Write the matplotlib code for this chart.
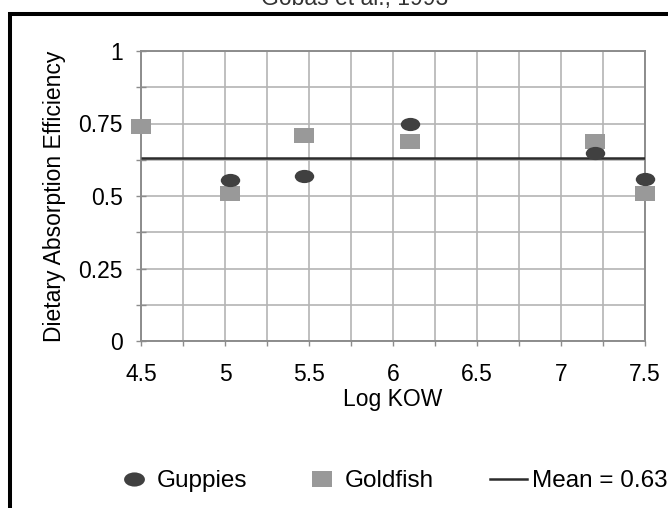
import matplotlib
matplotlib.use("Agg")
import matplotlib.pyplot as plt
from matplotlib.path import Path
from matplotlib.patches import Rectangle
from matplotlib.lines import Line2D
from matplotlib.ticker import MultipleLocator
import numpy as np

# Dietary absorption efficiency versus log Kow
guppy_logkow = [5.03, 5.47, 6.10, 7.20, 7.50]
guppy_eff = [0.555, 0.57, 0.75, 0.65, 0.56]
goldfish_logkow = [4.50, 5.03, 5.47, 6.10, 7.20, 7.50]
goldfish_eff = [0.74, 0.51, 0.71, 0.69, 0.69, 0.51]
mean_eff = 0.63

x_ticks = [4.5, 5, 5.5, 6, 6.5, 7, 7.5]
y_ticks = [0, 0.25, 0.5, 0.75, 1]
x_tick_labels = ["4.5", "5", "5.5", "6", "6.5", "7", "7.5"]
y_tick_labels = ["0", "0.25", "0.5", "0.75", "1"]

plt.rcParams["font.family"] = ["Liberation Sans", "DejaVu Sans"]
FS = 16.5

W, H = 668, 508
fig = plt.figure(figsize=(W / 100, H / 100), dpi=100)
ax = fig.add_axes([141 / W, 1 - 341 / H, (645 - 141) / W, (341 - 51) / H])

# wide markers: ellipse for guppies, flat rectangle for goldfish
circ = Path.unit_circle()
ellipse = Path(circ.vertices * np.array([1.0, 0.68]), circ.codes)
rect = Path([(-1, -0.75), (1, -0.75), (1, 0.75), (-1, 0.75), (-1, -0.75)],
            [Path.MOVETO, Path.LINETO, Path.LINETO, Path.LINETO, Path.CLOSEPOLY])

guppy_col = "#404040"
gold_col = "#999999"

ax.plot(goldfish_logkow, goldfish_eff, linestyle="none", marker=rect,
        markersize=14.4, color=gold_col, markeredgewidth=0, clip_on=False, zorder=4)
ax.plot(guppy_logkow, guppy_eff, linestyle="none", marker=ellipse,
        markersize=14.0, color=guppy_col, markeredgewidth=0, clip_on=False, zorder=5)
ax.plot([4.5, 7.5], [mean_eff, mean_eff], color="#2c2c2c", lw=1.8, zorder=3,
        solid_capstyle="butt")

ax.set_xlim(4.5, 7.5)
ax.set_ylim(0, 1)
ax.set_xticks(x_ticks)
ax.set_xticklabels(x_tick_labels)
ax.set_yticks(y_ticks)
ax.set_yticklabels(y_tick_labels)
ax.xaxis.set_minor_locator(MultipleLocator(0.25))
ax.yaxis.set_minor_locator(MultipleLocator(0.125))

grid_col = "#b4b4b4"
ax.grid(True, which="both", color=grid_col, lw=1.2, zorder=0)
ax.set_axisbelow(True)

for side in ["top", "right", "left", "bottom"]:
    ax.spines[side].set_color("#8c8c8c")
    ax.spines[side].set_linewidth(1.4)

ax.tick_params(axis="y", which="both", direction="inout", length=6.5, width=1.0,
               color="#8c8c8c", labelsize=FS, pad=10)
ax.tick_params(axis="x", which="both", direction="out", length=3.5, width=1.0,
               color="#8c8c8c", labelsize=FS, pad=12)

ax.set_xlabel("Log KOW", fontsize=FS, labelpad=2)
ax.set_ylabel("Dietary Absorption Efficiency", fontsize=FS, labelpad=9)

# legend row under the plot
LFS = 17.5
handles = [
    Line2D([], [], linestyle="none", marker=ellipse, markersize=15.0,
           color=guppy_col, markeredgewidth=0),
    Line2D([], [], linestyle="none", marker=rect, markersize=15.0,
           color=gold_col, markeredgewidth=0),
    Line2D([], [], color="#2c2c2c", lw=1.8),
]
labels = ["Guppies", "Goldfish", "Mean = 0.63"]
fig.legend(handles, labels, loc="center", bbox_to_anchor=(391 / W, 1 - 481 / H),
           ncol=3, frameon=False, fontsize=LFS, handlelength=1.55,
           handletextpad=0.17, columnspacing=2.3, borderaxespad=0, borderpad=0)

# heavy outer frame and partially hidden caption above it
fig.patches.append(Rectangle((10 / W, -0.2), 1.2, 1.2 - 13.5 / H, transform=fig.transFigure,
                             fill=False, edgecolor="black", lw=2.9, zorder=10))
fig.text(355 / W, 1 + 1 / H, "Gobas et al., 1993", ha="center", va="center",
         fontsize=FS, color="#333333")

fig.savefig("out.png", dpi=100)
